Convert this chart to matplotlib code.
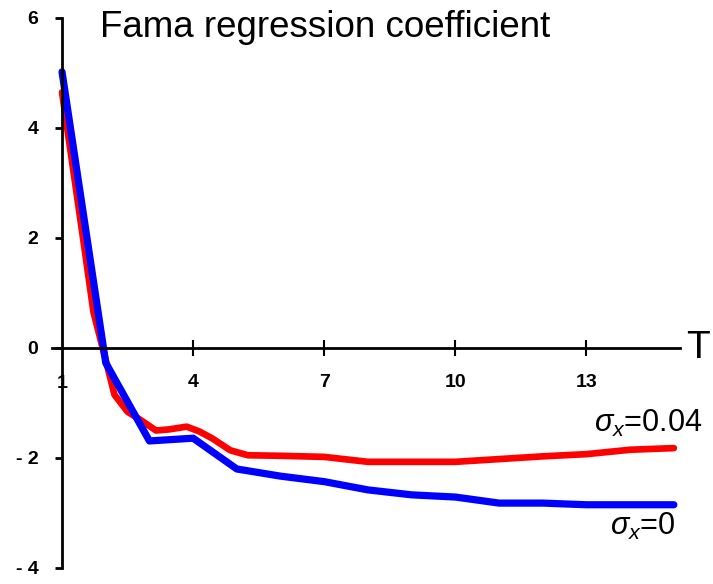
import matplotlib
matplotlib.use("Agg")
import matplotlib.pyplot as plt

plt.rcParams["font.family"] = ["Liberation Sans", "DejaVu Sans"]
plt.rcParams["mathtext.fontset"] = "custom"
plt.rcParams["mathtext.rm"] = "Liberation Sans"
plt.rcParams["mathtext.it"] = "Liberation Sans:italic"

# horizon T and regression coefficient
T_blue = [1, 2, 3, 4, 5, 6, 7, 8, 9, 10, 11, 12, 13, 14, 15]
coef_blue = [5.02, -0.27, -1.69, -1.64, -2.2, -2.33, -2.43, -2.58, -2.67, -2.71,
             -2.82, -2.82, -2.85, -2.85, -2.85]

T_red = [1, 1.48, 1.72, 2.03, 2.2, 2.5, 2.8, 3.15, 3.45, 3.85, 4.15, 4.45, 4.85, 5.25,
         6, 7, 8, 9, 10, 11, 12, 13, 14, 15]
coef_red = [4.65, 2.0, 0.65, -0.31, -0.85, -1.16, -1.31, -1.5, -1.48, -1.43, -1.52,
            -1.65, -1.86, -1.95, -1.96, -1.98, -2.07, -2.07, -2.07, -2.02, -1.97,
            -1.93, -1.85, -1.82]

xticks = [4, 7, 10, 13]
yticks = [-4, -2, 0, 2, 4, 6]
ytick_labels = ["- 4", "- 2", "0", "2", "4", "6"]

fig = plt.figure(figsize=(7.13, 5.84), dpi=100)
ax = fig.add_axes([0.0729, 0.0274, 0.8808, 0.9418])

ax.plot(T_red, coef_red, color="#ff0000", lw=4.8, solid_capstyle="round",
        solid_joinstyle="round")
ax.plot(T_blue, coef_blue, color="#0000ff", lw=5.2, solid_capstyle="round",
        solid_joinstyle="round")

ax.set_xlim(0.77, 15.14)
ax.set_ylim(-4, 6)

for s in ["top", "right"]:
    ax.spines[s].set_visible(False)
ax.spines["left"].set_position(("data", 1))
ax.spines["bottom"].set_position(("data", 0))
ax.spines["left"].set_linewidth(2)
ax.spines["bottom"].set_linewidth(2)

ax.tick_params(axis="y", direction="out", length=5, width=2, pad=12, labelsize=14)
ax.tick_params(axis="x", direction="inout", length=12, width=1.5, pad=13, labelsize=14)
ax.set_yticks(yticks)
ax.set_yticklabels(ytick_labels, fontweight="bold")
ax.set_xticks(xticks)
ax.set_xticklabels([str(t) for t in xticks], fontweight="bold")
ax.text(1, -0.64, "1", ha="center", va="center", fontsize=14, fontweight="bold")

ax.text(15.27, 0, "T", ha="left", va="center", fontsize=28)
fig.text(0.14, 0.9366, "Fama regression coefficient", ha="left", va="baseline",
         fontsize=26.5)

ax.text(15.65, -1.53, r"$\sigma_x$=0.04", ha="right", va="baseline", fontsize=22)
ax.text(15.03, -3.4, r"$\sigma_x$=0", ha="right", va="baseline", fontsize=22)

fig.savefig("out.png", dpi=100)
